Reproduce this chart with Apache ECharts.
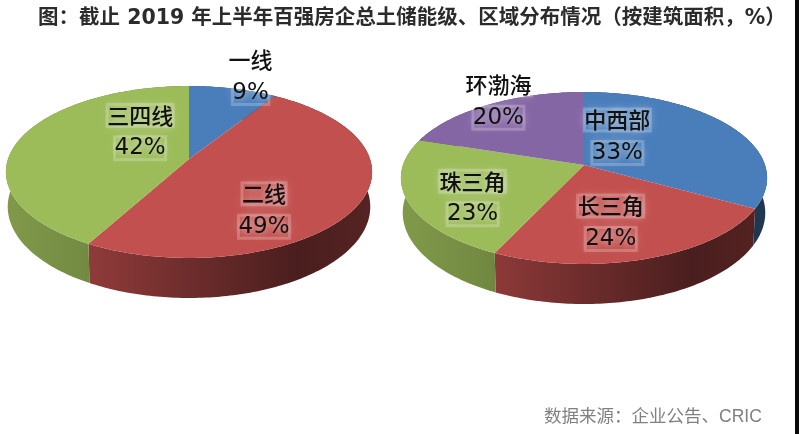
<!DOCTYPE html>
<html>
<head>
<meta charset="utf-8">
<style>html,body{margin:0;padding:0;background:#fff}#c{width:800px;height:434px;filter:blur(0.5px)}</style>
<script src="https://cdn.jsdelivr.net/npm/echarts@6/dist/echarts.min.js"></script>
</head>
<body>
<div id="c"></div>
<script>
// ---- data ----
const tierNames = ['一线', '二线', '三四线'];
const tierValues = [9, 49, 42];
const regionNames = ['中西部', '长三角', '珠三角', '环渤海'];
const regionValues = [33, 24, 23, 20];

// ---- styles ----
const tierColors = ['#4a7ebb', '#c2504e', '#9cbb59'];
const regionColors = ['#4a7ebb', '#c2504e', '#9cbb59', '#8566a5'];
// label placement: radius along the slice's mid angle, then a small nudge in px
const tierLabelLayout = [[1.2, 10, 0], [0.5, -6, 29], [0.6, 54, -15]];
const regionLabelLayout = [[0.6, -56, -4], [0.6, -10, 5], [0.6, -8, 12], [0.7, -17, -20]];

const TILT = 0.151, A = 181, B = 84, DEPTH = 34;

function project(cx, cy, u, v, lower) {
  const w = 1 - TILT * v;
  return lower
    ? [cx + 0.99 * A * u / w, cy + B * v / w + DEPTH / w]
    : [cx + A * u / w, cy + B * v / w];
}
function arc(cx, cy, a0, a1, lower) {
  const pts = [], n = Math.max(2, Math.ceil((a1 - a0) * 60));
  for (let i = 0; i <= n; i++) {
    const a = a0 + (a1 - a0) * i / n;
    pts.push(project(cx, cy, Math.sin(a), -Math.cos(a), lower));
  }
  return pts;
}
function shade(hex, m) {
  const n = parseInt(hex.slice(1), 16);
  const c = [n >> 16, (n >> 8) & 255, n & 255].map(x => Math.round(x * m));
  return 'rgb(' + c.join(',') + ')';
}
function wallFill(cx, color) {
  return {
    type: 'linear', global: true, x: cx - A, y: 0, x2: cx + A, y2: 0,
    colorStops: [
      { offset: 0, color: shade(color, 0.82) },
      { offset: 0.22, color: shade(color, 0.74) },
      { offset: 0.5, color: shade(color, 0.56) },
      { offset: 0.8, color: shade(color, 0.38) },
      { offset: 1, color: shade(color, 0.44) }
    ]
  };
}
function pieSeries(names, values, colors, layout, cx, cy) {
  const total = values.reduce((s, v) => s + v, 0);
  const starts = [];
  values.reduce((s, v, i) => { starts[i] = s; return s + v; }, 0);
  const angle = p => p / total * Math.PI * 2;
  const data = values.map((v, i) => ({ name: names[i], value: v }));
  const base = { type: 'custom', coordinateSystem: 'none', animation: false, silent: true, data };
  return [
    Object.assign({}, base, {
      z: 1,
      renderItem(params) {
        const i = params.dataIndex;
        const a0 = angle(starts[i]), a1 = angle(starts[i] + values[i]);
        const top = arc(cx, cy, a0, a1, false);
        const bot = arc(cx, cy, a0, a1, true).reverse();
        return { type: 'polygon', shape: { points: top.concat(bot) }, style: { fill: wallFill(cx, colors[i]) } };
      }
    }),
    Object.assign({}, base, {
      z: 2,
      renderItem(params) {
        const i = params.dataIndex;
        const a0 = angle(starts[i]), a1 = angle(starts[i] + values[i]);
        return { type: 'polygon', shape: { points: [[cx, cy]].concat(arc(cx, cy, a0, a1, false)) }, style: { fill: colors[i] } };
      }
    }),
    Object.assign({}, base, {
      z: 3,
      renderItem(params) {
        const i = params.dataIndex;
        const mid = angle(starts[i] + values[i] / 2);
        const [r, dx, dy] = layout[i];
        const p = project(cx, cy, r * Math.sin(mid), -r * Math.cos(mid), false);
        const halo = {
          textShadowColor: 'rgba(255,255,255,0.85)', textShadowBlur: 8,
          textBorderColor: 'rgba(255,255,255,0.22)', textBorderWidth: 3,
          fill: '#111', align: 'center', verticalAlign: 'middle'
        };
        return {
          type: 'group',
          children: [
            { type: 'text', x: p[0] + dx, y: p[1] + dy - 16.5,
              style: Object.assign({ text: names[i], font: '500 22px "Noto Sans CJK SC"' }, halo) },
            { type: 'text', x: p[0] + dx, y: p[1] + dy + 16.5,
              style: Object.assign({ text: values[i] + '%', font: '23px "DejaVu Sans"' }, halo) }
          ]
        };
      }
    })
  ];
}

const chart = echarts.init(document.getElementById('c'), null, { renderer: 'canvas' });
chart.setOption({
  backgroundColor: '#fff',
  title: [
    { text: '图：截止 2019 年上半年百强房企总土储能级、区域分布情况（按建筑面积，%）', left: 33, top: 3,
      textStyle: { fontFamily: '"DejaVu Sans","Noto Sans CJK SC"', fontWeight: 'bold', fontSize: 20.5, color: '#2b2b2b' } },
    { text: '数据来源：企业公告、CRIC', left: 539, top: 403,
      textStyle: { fontFamily: '"Liberation Sans","Noto Sans CJK SC"', fontWeight: 'normal', fontSize: 17.5, color: '#808080' } }
  ],
  graphic: [{ type: 'rect', shape: { x: 795, y: 0, width: 4, height: 434 }, style: { fill: '#0a0a0a' } }],
  series: [
    ...pieSeries(tierNames, tierValues, tierColors, tierLabelLayout, 189, 159),
    ...pieSeries(regionNames, regionValues, regionColors, regionLabelLayout, 584, 165)
  ]
});
</script>
</body>
</html>
